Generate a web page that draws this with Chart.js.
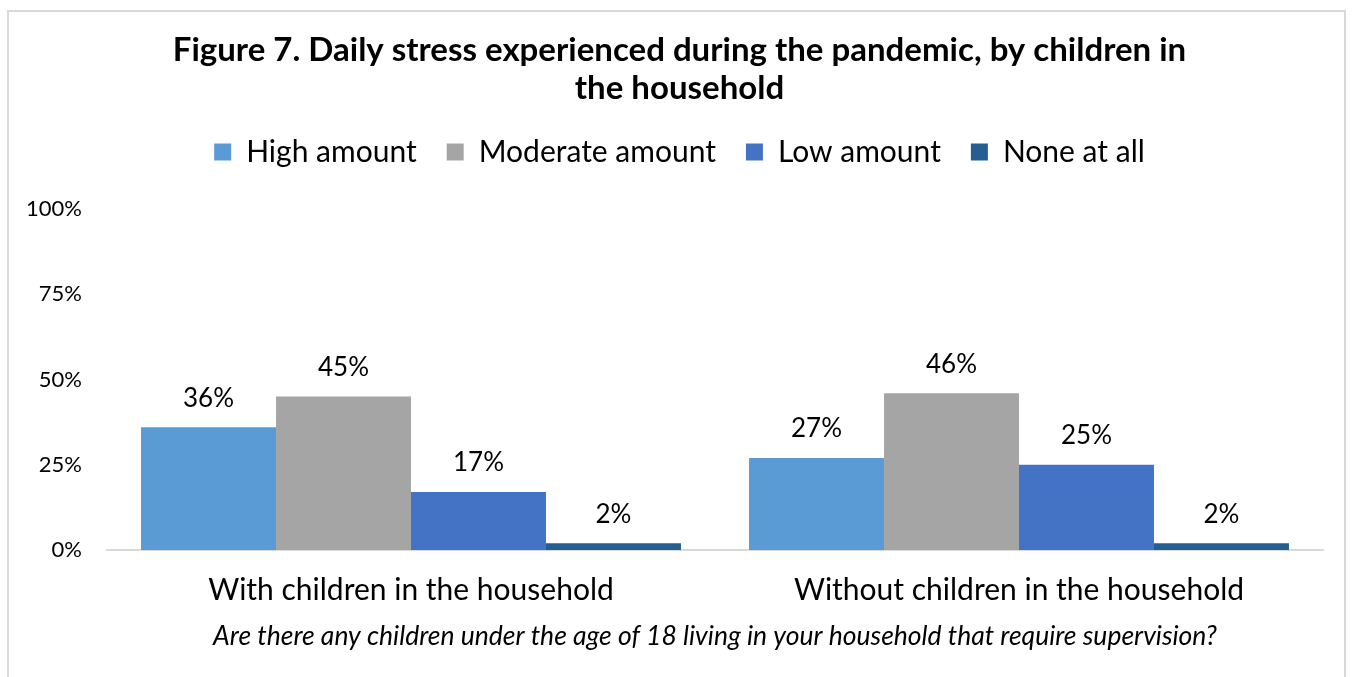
<!DOCTYPE html>
<html>
<head>
<meta charset="utf-8">
<script src="https://cdn.jsdelivr.net/npm/chart.js@4/dist/chart.umd.min.js"></script>
<style>
  html, body { margin: 0; padding: 0; background: #ffffff; }
  #wrap { position: relative; width: 1354px; height: 677px; overflow: hidden; }
  #frame { position: absolute; left: 7px; top: 10px; width: 1339px; height: 700px; border: 2px solid #d9d9d9; box-sizing: border-box; }
  #c { position: absolute; left: 0; top: 0; }
</style>
</head>
<body>
<div id="wrap">
  <div id="frame"></div>
  <canvas id="c" width="1354" height="677"></canvas>
</div>
<script>
const titleLines = ['Figure 7. Daily stress experienced during the pandemic, by children in', 'the household'];
const categories = ['With children in the household', 'Without children in the household'];
const seriesNames = ['High amount', 'Moderate amount', 'Low amount', 'None at all'];
const highAmount = [36, 27];
const moderateAmount = [45, 46];
const lowAmount = [17, 25];
const noneAtAll = [2, 2];
const seriesColors = ['#5B9BD5', '#A5A5A5', '#4472C4', '#255E91'];
const yTicks = [0, 25, 50, 75, 100];
const axisTitle = 'Are there any children under the age of 18 living in your household that require supervision?';

const FONT = 'Lato, "Open Sans", sans-serif';

const valueLabels = {
  id: 'valueLabels',
  afterDatasetsDraw(chart) {
    const ctx = chart.ctx;
    ctx.save();
    ctx.font = '26px ' + FONT;
    ctx.fillStyle = '#000000';
    ctx.textAlign = 'center';
    ctx.textBaseline = 'middle';
    chart.data.datasets.forEach((ds, di) => {
      const meta = chart.getDatasetMeta(di);
      meta.data.forEach((bar, i) => {
        ctx.fillText(ds.data[i] + '%', bar.x, bar.y - 29);
      });
    });
    ctx.restore();
  }
};

const legendSpacer = {
  id: 'legendSpacer',
  beforeInit(chart) {
    const origFit = chart.legend.fit;
    chart.legend.fit = function () {
      origFit.bind(chart.legend)();
      this.height += 32;
    };
  },
  afterLayout(chart) {
    const shift = 18;
    [chart.titleBlock, chart.legend].forEach(box => {
      if (box) { box.left += shift; box.right += shift; }
    });
  }
};

const dataArrays = [highAmount, moderateAmount, lowAmount, noneAtAll];

new Chart(document.getElementById('c'), {
  type: 'bar',
  data: {
    labels: categories,
    datasets: seriesNames.map((name, i) => ({
      label: name,
      data: dataArrays[i],
      backgroundColor: seriesColors[i],
      borderWidth: 0,
      categoryPercentage: 0.888,
      barPercentage: 1.0
    }))
  },
  options: {
    responsive: false,
    animation: false,
    devicePixelRatio: 1,
    layout: { padding: { left: 0, right: 31, top: 0, bottom: 0 } },
    plugins: {
      title: {
        display: true,
        text: titleLines,
        color: '#000000',
        font: { family: FONT, size: 33, weight: 'bold', lineHeight: 38 / 33 },
        padding: { top: 31, bottom: 0 }
      },
      legend: {
        display: true,
        position: 'top',
        labels: {
          color: '#000000',
          font: { family: FONT, size: 30 },
          boxWidth: 17,
          boxHeight: 17,
          padding: 30
        }
      },
      tooltip: { enabled: false }
    },
    scales: {
      x: {
        grid: { display: false, drawTicks: false },
        border: { display: true, color: '#d9d9d9', width: 2 },
        ticks: { color: '#000000', font: { family: FONT, size: 30 }, padding: 22 },
        title: {
          display: true,
          text: axisTitle,
          color: '#000000',
          font: { family: FONT, size: 26.5, style: 'italic' },
          padding: { top: 0, bottom: 25 }
        },
        afterFit(scale) { scale.height = 127; }
      },
      y: {
        min: 0,
        max: 100,
        grid: { display: false, drawTicks: false },
        border: { display: false },
        afterBuildTicks(scale) { scale.ticks = yTicks.map(v => ({ value: v })); },
        ticks: {
          color: '#000000',
          font: { family: FONT, size: 22 },
          padding: 25,
          callback: v => v + '%'
        },
        afterFit(scale) { scale.width = 107; }
      }
    }
  },
  plugins: [legendSpacer, valueLabels]
});
</script>
</body>
</html>
